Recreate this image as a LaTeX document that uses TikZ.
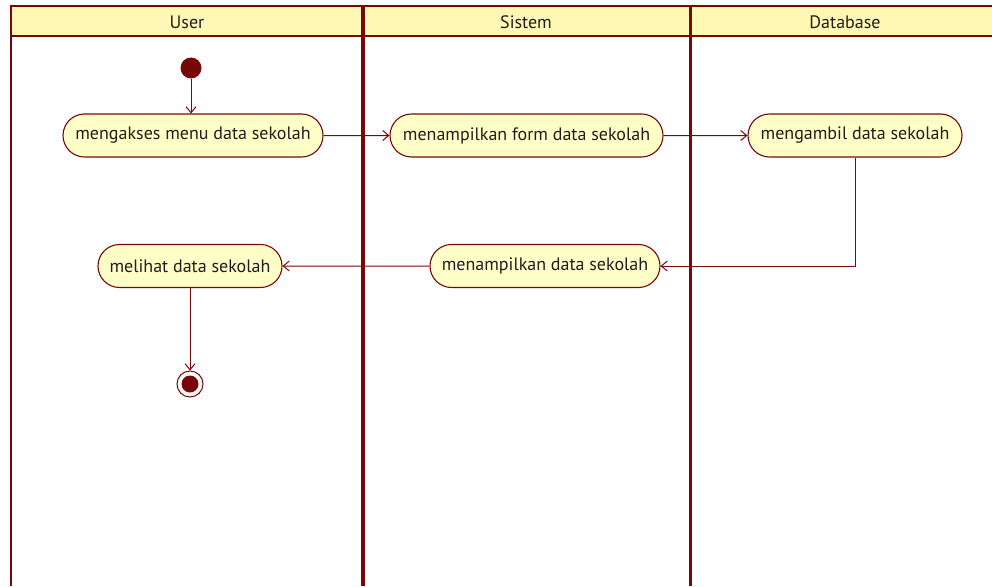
\documentclass[tikz,border=0pt]{standalone}
\usepackage{fontspec}
\setmainfont{PT Sans}
\usetikzlibrary{arrows.meta,shapes.misc}
\definecolor{umlred}{HTML}{780808}
\definecolor{actfill}{HTML}{FFFFC8}
\definecolor{headfill}{HTML}{FFF7B4}
\definecolor{inktext}{HTML}{1E1E1E}
\begin{document}
\begin{tikzpicture}[x=1pt,y=-1pt,
  action/.style={rounded rectangle, draw=umlred, line width=1.1pt, fill=actfill,
    minimum height=43pt, inner xsep=0pt, font=\fontsize{18}{21}\selectfont, text=inktext},
  flow/.style={draw=umlred, line width=1pt, -{Straight Barb[length=6pt,width=10pt]}},
  lanetitle/.style={font=\fontsize{18}{21}\selectfont, text=inktext},
  lane/.style={draw=umlred},
]
\useasboundingbox (0,0) rectangle (992,586);
\fill[white] (0,0) rectangle (992,586);

% swimlane header band and borders
\fill[headfill] (11,6) rectangle (992,36);
\draw[lane, line width=2pt] (10,6) -- (992,6);
\draw[lane, line width=2pt] (11,36) -- (992,36);
\draw[lane, line width=2.5pt] (11,5) -- (11,586);
\draw[lane, line width=4pt] (363,5) -- (363,586);
\draw[lane, line width=3pt] (690,5) -- (690,586);

\node[lanetitle] (hUser) at (187,22) {User};
\node[lanetitle] (hSistem) at (526,22) {Sistem};
\node[lanetitle] (hDb) at (845,22) {Database};

% initial and final states
\node[circle, fill=umlred, minimum size=21pt, inner sep=0pt] (start) at (191,68) {};
\node[circle, draw=umlred, line width=1pt, fill=white, minimum size=26pt, inner sep=0pt] (end) at (190,384) {};
\node[circle, fill=umlred, minimum size=17pt, inner sep=0pt] (endin) at (end.center) {};

% actions
\node[action, minimum width=260pt] (a1) at (193,135.5) {mengakses menu data sekolah};
\node[action, minimum width=273pt] (a2) at (526.5,135.5) {menampilkan form data sekolah};
\node[action, minimum width=214pt] (a3) at (855,135.5) {mengambil data sekolah};
\node[action, minimum width=230pt] (a4) at (545,266) {menampilkan data sekolah};
\node[action, minimum width=184pt] (a5) at (190,266) {melihat data sekolah};

% control flows
\draw[flow] (start) -- (start |- a1.north);
\draw[flow] (a1) -- (a2);
\draw[flow] (a2) -- (a3);
\draw[flow] (a3.south) |- (a4.east);
\draw[flow] (a4) -- (a5);
\draw[flow] (a5.south) -- (end.north);
\end{tikzpicture}
\end{document}
